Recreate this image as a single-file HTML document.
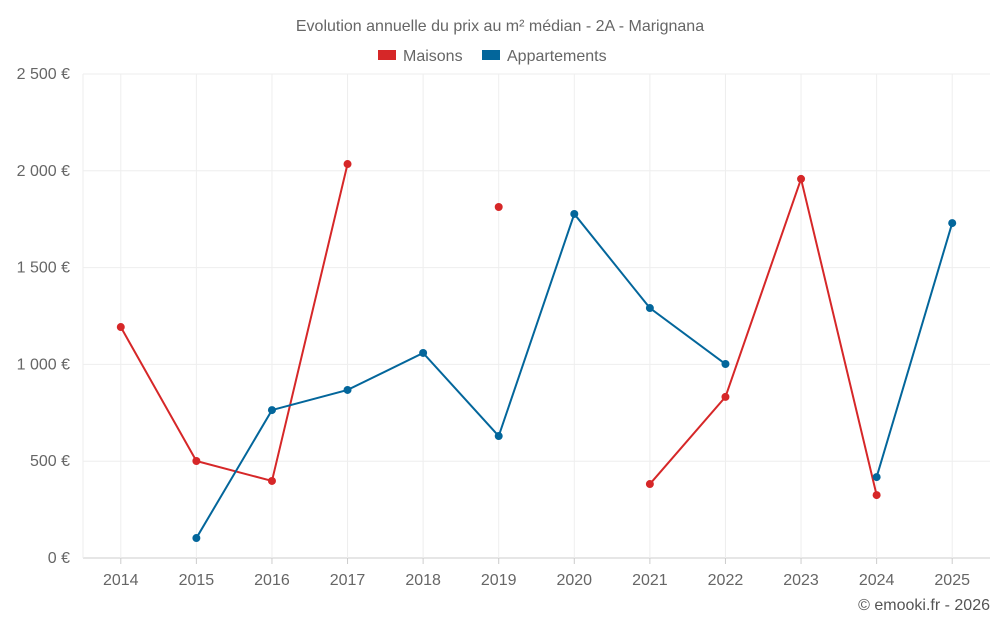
<!DOCTYPE html>
<html><head><meta charset="utf-8"><style>
body{margin:0;background:#fff;font-family:"Liberation Sans",sans-serif;}
svg text{font-family:"Liberation Sans",sans-serif;}
</style></head><body>
<svg id="chart" width="1000" height="625" xmlns="http://www.w3.org/2000/svg">
<rect width="1000" height="625" fill="#fff"/>
<text x="500" y="31" text-anchor="middle" font-size="16" fill="#666">Evolution annuelle du prix au m² médian - 2A - Marignana</text>
<g>
<g><rect x="378" y="50" width="18" height="10" fill="#d62728"/><text x="403" y="61" font-size="16" fill="#666">Maisons</text></g>
<g><rect x="482" y="50" width="18" height="10" fill="#03669b"/><text x="507" y="61" font-size="16" fill="#666">Appartements</text></g>
</g>
<g id="grid"></g>
<g id="axes"></g>
<g id="series"></g>
<text x="990" y="610" text-anchor="end" font-size="16" fill="#555">© emooki.fr - 2026</text>
</svg>
<script>
const years=["2014","2015","2016","2017","2018","2019","2020","2021","2022","2023","2024","2025"];
const maisons=[1193,501,398,2035,null,1813,null,382,832,1958,325,null];
const appartements=[null,103,764,868,1059,630,1777,1291,1002,null,418,1730];
const yTicks=[0,500,1000,1500,2000,2500];
const yLabels=["0 €","500 €","1 000 €","1 500 €","2 000 €","2 500 €"];
const L=83,R=990,T=74,B=558,NS="http://www.w3.org/2000/svg";
const bw=(R-L)/years.length;
function x(i){return L+bw*(i+0.5);}
function y(v){return B-(v/2500)*(B-T);}
function mk(tag,attrs,parent){const e=document.createElementNS(NS,tag);for(const k in attrs)e.setAttribute(k,attrs[k]);parent.appendChild(e);return e;}
const grid=document.getElementById('grid'),axes=document.getElementById('axes'),ser=document.getElementById('series');
yTicks.forEach((t,i)=>{
 const l=mk('line',{x1:L,x2:R,y1:y(t),y2:y(t),stroke:i==0?'#ccc':'#eee'},grid);
 
 
 const tx=mk('text',{x:70,y:y(t)+5,'text-anchor':'end','font-size':16,fill:'#666'},axes);
 tx.textContent=yLabels[i];
 
 
});
mk('line',{x1:L,x2:L,y1:T,y2:B,stroke:'#eee'},grid);
years.forEach((yr,i)=>{
 const l=mk('line',{x1:x(i),x2:x(i),y1:T,y2:B,stroke:'#eee'},grid);
 
 
 const tk=mk('line',{x1:x(i),x2:x(i),y1:B,y2:B+6,stroke:'#ccc'},axes);
 
 
 const tx=mk('text',{x:x(i),y:585,'text-anchor':'middle','font-size':16,fill:'#666'},axes);
 tx.textContent=yr;
 
 
});
function draw(data,color,name){
 const g=mk('g',{},ser);
 
 
 let seg=[];
 const flush=()=>{if(seg.length>1){const p=mk('polyline',{points:seg.join(' '),fill:'none',stroke:color,'stroke-width':2},g);
 
 }seg=[];};
 data.forEach((v,i)=>{if(v==null){flush();return;}seg.push(x(i)+','+y(v));});
 flush();
 data.forEach((v,i)=>{if(v==null)return;
 const c=mk('circle',{cx:x(i),cy:y(v),r:4,fill:color},g);
 
 });
}
draw(maisons,'#d62728','maisons');
draw(appartements,'#03669b','appartements');
</script>
</body></html>
